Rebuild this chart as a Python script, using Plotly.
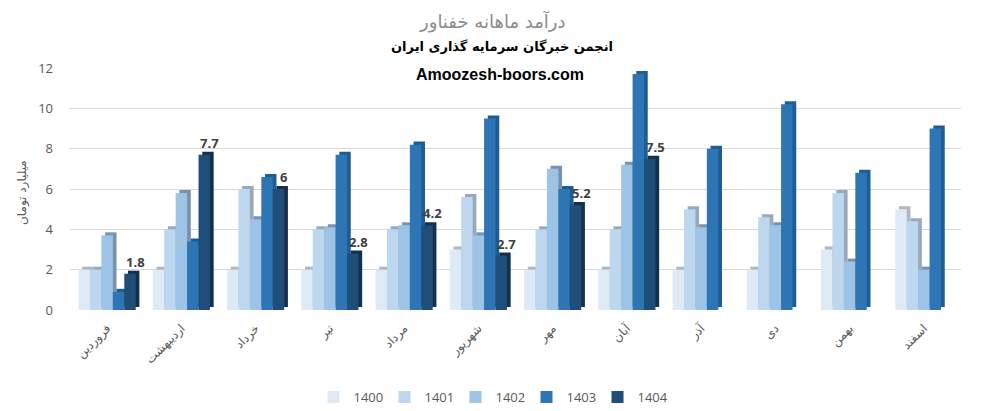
import plotly.graph_objects as go

months = ["فروردین", "اردیبهشت", "خرداد", "تیر", "مرداد", "شهریور",
          "مهر", "آبان", "آذر", "دی", "بهمن", "اسفند"]
years = ["1400", "1401", "1402", "1403", "1404"]
v1400 = [2, 2, 2, 2, 2, 3, 2, 2, 2, 2, 3, 5]
v1401 = [2, 4, 6, 4, 4, 5.6, 4, 4, 5, 4.6, 5.8, 4.4]
v1402 = [3.7, 5.8, 4.5, 4.1, 4.2, 3.7, 7, 7.2, 4.1, 4.2, 2.4, 2]
v1403 = [0.9, 3.4, 6.6, 7.7, 8.2, 9.5, 6, 11.7, 8, 10.2, 6.8, 9]
v1404 = [1.8, 7.7, 6, 2.8, 4.2, 2.7, 5.2, 7.5, None, None, None, None]
series = [v1400, v1401, v1402, v1403, v1404]

front_colors = ["#DEEBF7", "#BDD7EE", "#9DC3E6", "#2E75B6", "#1F4E79"]
side_colors = ["#AEB7C2", "#98A9BB", "#7B92AC", "#1E5C96", "#13304D"]

GROUP = 0.77
W = GROUP / 5
DX = 0.05   # depth in x (category units)
DY = 0.15   # depth in y (value units)

fig = go.Figure()

# side/top faces (drawn first)
for i, vals in enumerate(series):
    xs = [m for m, v in zip(months, vals) if v is not None]
    ys = [v for v in vals if v is not None]
    fig.add_trace(go.Bar(
        x=xs, y=ys, base=DY, offset=-GROUP / 2 + i * W + DX, width=W,
        marker=dict(color=side_colors[i], line=dict(width=0)),
        showlegend=False, hoverinfo="skip"))

# front faces
for i, vals in enumerate(series):
    xs = [m for m, v in zip(months, vals) if v is not None]
    ys = [v for v in vals if v is not None]
    fig.add_trace(go.Bar(
        x=xs, y=ys, offset=-GROUP / 2 + i * W, width=W, name=years[i],
        marker=dict(color=front_colors[i], line=dict(width=0))))

# data labels for 1404
for idx, v in enumerate(v1404):
    if v is None:
        continue
    fig.add_annotation(
        x=idx - GROUP / 2 + 5 * W, y=v, xref="x", yref="y",
        text="<b>%g</b>" % v, showarrow=False, xanchor="center", yanchor="bottom",
        yshift=1, font=dict(family="Open Sans, DejaVu Sans", size=13, color="#404040"))

ML, MR, MT, MB = 70, 37, 68, 101
H_PLOT = 411 - MT - MB
W_PLOT = 998 - ML - MR


def py(px):
    return (411 - MB - px) / H_PLOT


def pxx(px):
    return (px - ML) / W_PLOT


fig.add_annotation(x=pxx(492), y=py(22), xref="paper", yref="paper", yanchor="middle",
                   text="درآمد ماهانه خفناور", showarrow=False,
                   font=dict(family="DejaVu Sans", size=18, color="#8C8C8C"))
fig.add_annotation(x=pxx(502), y=py(47), xref="paper", yref="paper", yanchor="middle",
                   text="<b>انجمن خبرگان سرمایه گذاری ایران</b>", showarrow=False,
                   font=dict(family="DejaVu Sans", size=13, color="#000000"))
fig.add_annotation(x=pxx(500), y=py(74), xref="paper", yref="paper", yanchor="middle",
                   text="<b>Amoozesh-boors.com</b>", showarrow=False,
                   font=dict(family="Liberation Sans", size=16, color="#000000"))
fig.add_annotation(x=pxx(22), y=py(193), xref="paper", yref="paper", yanchor="middle",
                   xanchor="center", text="میلیارد تومان", textangle=-90, showarrow=False,
                   font=dict(family="DejaVu Sans", size=12, color="#595959"))

fig.update_layout(
    width=998, height=411,
    margin=dict(l=ML, r=MR, t=MT, b=MB, autoexpand=False),
    paper_bgcolor="white", plot_bgcolor="white",
    barmode="overlay",
    font=dict(family="Open Sans, DejaVu Sans", size=12, color="#595959"),
    legend=dict(orientation="h", x=pxx(491), xanchor="center", y=py(397), yanchor="middle",
                font=dict(size=13, color="#595959"), itemwidth=30,
                entrywidth=26, entrywidthmode="pixels",
                traceorder="normal"),
    showlegend=True,
)

fig.update_xaxes(type="category", categoryorder="array", categoryarray=months,
                 tickangle=-45, showgrid=False, showline=False, zeroline=False,
                 ticks="", ticklabelstandoff=8,
                 tickfont=dict(family="DejaVu Sans", size=12, color="#595959"),
                 range=[-0.5, 11.5])
fig.update_yaxes(range=[0, 12], dtick=2, showgrid=True, gridcolor="#D9D9D9", gridwidth=1,
                 zeroline=False, showline=False, ticks="", ticklabelstandoff=16,
                 tickfont=dict(family="Open Sans", size=13, color="#595959"))

fig.write_html("out.html", config={"displayModeBar": False},
               post_script="document.body.style.margin='0';document.body.style.overflow='hidden';")
